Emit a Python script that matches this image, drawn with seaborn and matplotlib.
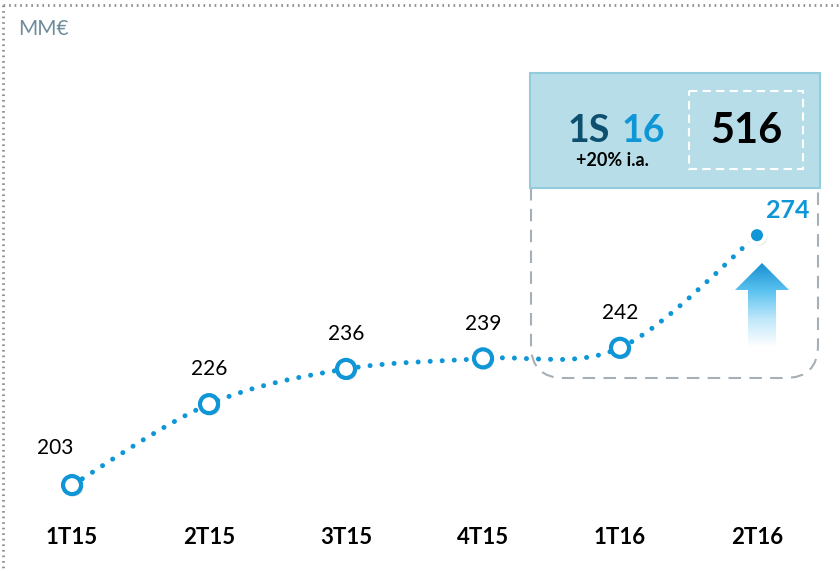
import numpy as np
import pandas as pd
import matplotlib
matplotlib.use('Agg')
import matplotlib.pyplot as plt
import matplotlib.patheffects as pe
from matplotlib.path import Path
from matplotlib.patches import PathPatch, Rectangle, Polygon
from matplotlib.lines import Line2D
from matplotlib.transforms import Affine2D
from matplotlib.colors import LinearSegmentedColormap
import seaborn as sns

# Data
categories = ['1T15', '2T15', '3T15', '4T15', '1T16', '2T16']
values = [203, 226, 236, 239, 242, 274]
unit_label = 'MM€'
period_label = '1S'
period_year = '16'
period_total = '516'
period_growth = '+20% i.a.'

BLUE = '#0f96d6'
DARK = '#0d4f6e'

sns.set_theme(style='white')
plt.rcParams['font.family'] = ['Lato', 'DejaVu Sans']

fig = plt.figure(figsize=(8.4, 5.71), dpi=100)
ax = fig.add_axes([0, 0, 1, 1])
ax.set_xlim(-0.526, 5.606)
ax.set_ylim(178.6, 340.8)
ax.axis('off')

df = pd.DataFrame({'cat': categories, 'x': np.arange(len(categories)), 'value': values})

# smoothed dotted line (Catmull-Rom style bezier through the points)
pts = df[['x', 'value']].to_numpy(dtype=float)
verts = [pts[0]]
codes = [Path.MOVETO]
for i in range(len(pts) - 1):
    p0 = pts[max(i - 1, 0)]
    p1 = pts[i]
    p2 = pts[i + 1]
    p3 = pts[min(i + 2, len(pts) - 1)]
    verts += [p1 + (p2 - p0) / 6, p2 - (p3 - p1) / 6, p2]
    codes += [Path.CURVE4] * 3
curve = PathPatch(Path(verts, codes), fill=False, edgecolor=BLUE, lw=3.6,
                  linestyle=(0, (0.01, 2.4)), capstyle='round', zorder=2)
ax.add_patch(curve)

shadow = [pe.SimplePatchShadow(offset=(1.5, -1.5), shadow_rgbFace='#808080', alpha=0.35), pe.Normal()]
sc = sns.scatterplot(data=df.iloc[:-1], x='x', y='value', s=13 ** 2, color='white',
                     edgecolor=BLUE, linewidth=3, zorder=3, ax=ax, legend=False)
sc.collections[-1].set_path_effects(shadow)
sns.scatterplot(data=df.iloc[-1:], x='x', y='value', s=11.9 ** 2, color=BLUE,
                edgecolor='white', linewidth=3.2, zorder=3, ax=ax, legend=False)
ax.collections[-1].set_path_effects(shadow)

# value labels
for i, (x, v) in enumerate(zip(df['x'], values)):
    if i == len(values) - 1:
        ax.annotate(str(v), (x, v), xytext=(22, 18), textcoords='offset points',
                    ha='center', va='center', fontsize=18, fontweight='bold', color=BLUE)
    elif i == 0:
        ax.annotate(str(v), (x, v), xytext=(-12, 27), textcoords='offset points',
                    ha='center', va='center', fontsize=15, color='black')
    else:
        ax.annotate(str(v), (x, v), xytext=(0, 25), textcoords='offset points',
                    ha='center', va='center', fontsize=15, color='black')

# category labels
for x, c in zip(df['x'], categories):
    ax.text(x, 1 - 538 / 571, c, transform=ax.get_xaxis_transform(), ha='center', va='center',
            fontsize=16, fontweight='bold', color='black')

# pixel coordinate transform (origin top-left)
pix = Affine2D().scale(1 / 840, -1 / 571).translate(0, 1) + fig.transFigure

# dotted frame top and left
fig.add_artist(Line2D([3, 840], [5, 5], transform=pix, color='#8f8f8f', lw=2,
                      linestyle=(0, (0.6, 1.4))))
fig.add_artist(Line2D([3, 3], [5, 571], transform=pix, color='#8f8f8f', lw=2,
                      linestyle=(0, (0.6, 1.4))))
fig.text(18 / 840, 1 - 29 / 571, unit_label, ha='left', va='center', fontsize=15, color='#6f8c9b')

# dashed rounded region
r = 33
L, R, T, B = 531, 818, 188, 378
dv = [(L, T), (L, B - r), (L, B), (L + r, B), (R - r, B), (R, B), (R, B - r), (R, T)]
dc = [Path.MOVETO, Path.LINETO, Path.CURVE3, Path.CURVE3, Path.LINETO, Path.CURVE3, Path.CURVE3, Path.LINETO]
fig.add_artist(PathPatch(Path(dv, dc), transform=pix, fill=False, edgecolor='#a6afb5', lw=1.5,
                         linestyle=(0, (6, 4))))

# summary box
fig.add_artist(Rectangle((530, 73), 290, 115, transform=pix, facecolor='#b7dee8',
                         edgecolor='#93cddd', lw=1.5))
fig.add_artist(Rectangle((689, 91), 114, 78, transform=pix, facecolor='none',
                         edgecolor='white', lw=1.5, linestyle=(0, (4, 2.5))))
fig.text(610 / 840, 1 - 131 / 571, period_label, ha='right', va='center', fontsize=27,
         fontweight='bold', color=DARK)
fig.text(622 / 840, 1 - 131 / 571, period_year, ha='left', va='center', fontsize=27,
         fontweight='bold', color=BLUE)
fig.text(612 / 840, 1 - 161 / 571, period_growth, ha='center', va='center', fontsize=13,
         fontweight='bold', color='black')
fig.text(746 / 840, 1 - 131 / 571, period_total, ha='center', va='center', fontsize=30,
         fontweight='bold', color='black')

# gradient arrow
axa = fig.add_axes([735 / 840, 1 - 347 / 571, 54 / 840, 84 / 571])
axa.set_xlim(735, 789)
axa.set_ylim(347, 263)
axa.axis('off')
cmap = LinearSegmentedColormap.from_list('arr', ['#1890d2', '#5cc3f0', '#bfe7fa', '#ffffff'])
grad = np.linspace(0, 1, 200).reshape(-1, 1)
im = axa.imshow(grad, cmap=cmap, extent=(735, 789, 347, 263), aspect='auto', origin='upper')
arrow = Polygon([(762, 263), (789, 290), (776, 290), (776, 347), (748, 347), (748, 290), (735, 290)],
                closed=True, transform=axa.transData, facecolor='none', edgecolor='none')
axa.add_patch(arrow)
im.set_clip_path(arrow)

fig.savefig('out.png', dpi=100)
